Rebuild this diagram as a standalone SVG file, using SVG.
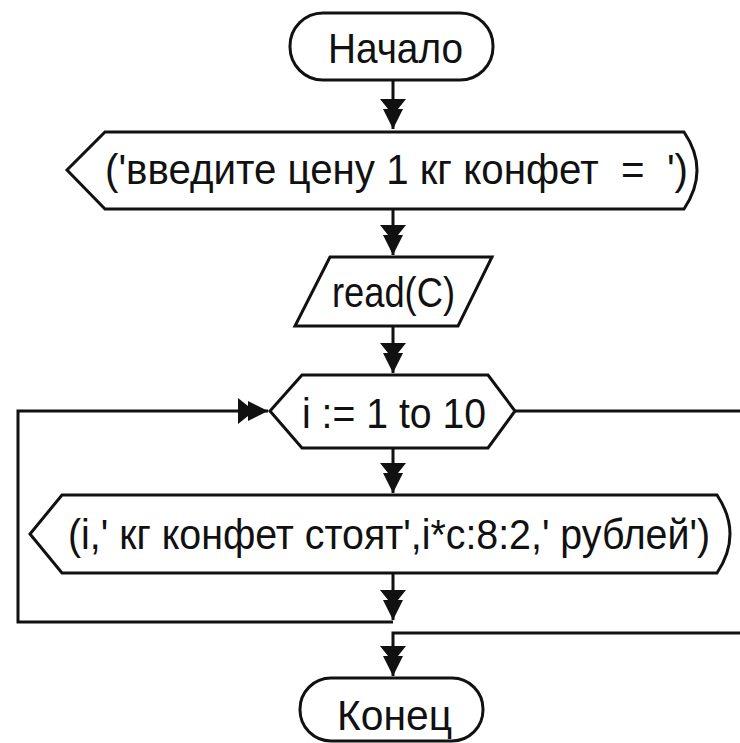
<svg xmlns="http://www.w3.org/2000/svg" width="740" height="743" viewBox="0 0 740 743">
<style>
.shape{fill:#fff;stroke:#111;stroke-width:3;stroke-linejoin:miter}
.conn{fill:none;stroke:#111;stroke-width:3}
.lbl{font-family:"Liberation Sans",Arial,sans-serif;font-size:43px;fill:#111;text-anchor:start;white-space:pre}
</style>
<defs>
<marker id="ah" markerUnits="userSpaceOnUse" viewBox="0 -15 32 30" markerWidth="32" markerHeight="30" refX="30" refY="0" orient="auto">
<path d="M0,-13 L0,13 L10,5 L10,10 L30,0 L10,-10 L10,-5 Z" fill="#111"/>
</marker>
</defs>
<rect width="740" height="743" fill="#fff"/>
<g id="connectors">
<path class="conn" d="M393,80 V129" marker-end="url(#ah)"/>
<path class="conn" d="M393,209 V255" marker-end="url(#ah)"/>
<path class="conn" d="M393,326 V373" marker-end="url(#ah)"/>
<path class="conn" d="M393,448 V493" marker-end="url(#ah)"/>
<path class="conn" d="M393,573 V620" marker-end="url(#ah)"/>
<path class="conn" d="M393,622 H18 V411 H268" marker-end="url(#ah)"/>
<path class="conn" d="M515,411 H740"/>
<path class="conn" d="M740,633 H393 V676" marker-end="url(#ah)"/>
</g>
<g id="start">
<rect class="shape" x="290" y="13" width="203" height="67" rx="33" ry="33"/>
<text class="lbl" x="328" y="63" textLength="135" lengthAdjust="spacingAndGlyphs">Начало</text>
</g>
<g id="prompt">
<path class="shape" d="M105,132 L684,132 Q710,170 684,209 L105,209 L67,170 Z"/>
<text class="lbl" x="105" y="184" textLength="583" lengthAdjust="spacingAndGlyphs">('введите цену 1 кг конфет  =  ')</text>
</g>
<g id="read">
<path class="shape" d="M330,257 L492,257 L458,326 L295,326 Z"/>
<text class="lbl" x="332" y="307" textLength="123" lengthAdjust="spacingAndGlyphs">read(C)</text>
</g>
<g id="loop">
<path class="shape" d="M302,375 L488,375 L515,411 L488,448 L302,448 L270,411 Z"/>
<text class="lbl" x="302" y="428" textLength="184" lengthAdjust="spacingAndGlyphs">i := 1 to 10</text>
</g>
<g id="output">
<path class="shape" d="M62,495 L717,495 Q743,534 717,573 L62,573 L30,534 Z"/>
<text class="lbl" transform="translate(68,549) scale(0.82,1)" x="0" y="0" font-size="41" textLength="783" lengthAdjust="spacingAndGlyphs">(i,' кг конфет стоят',i*c:8:2,' рублей')</text>
</g>
<g id="end">
<rect class="shape" x="300" y="678" width="183" height="63" rx="31" ry="31"/>
<text class="lbl" x="337" y="730" textLength="115" lengthAdjust="spacingAndGlyphs">Конец</text>
</g>
</svg>
